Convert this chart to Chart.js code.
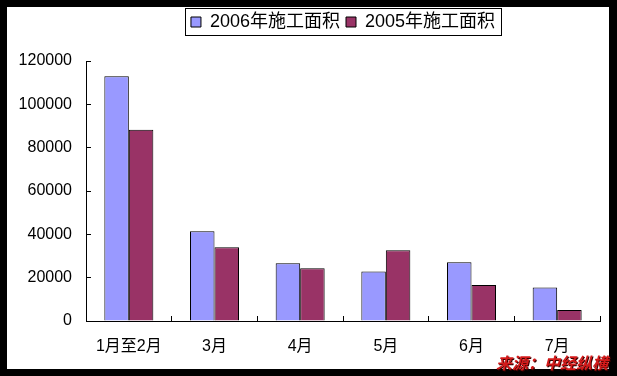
<!DOCTYPE html>
<html>
<head>
<meta charset="utf-8">
<script src="https://cdn.jsdelivr.net/npm/chart.js@4"></script>
<style>
  html, body { margin: 0; padding: 0; background: #000; }
  #frame { position: absolute; left: 7px; top: 7px; width: 602px; height: 362px; background: #fff; }
  #canvas1 { display: block; }
  #source {
    position: absolute; left: 496px; top: 352px;
    font: italic bold 16px 'Noto Sans CJK SC', sans-serif;
    color: #d41a1a; text-shadow: 1px 1px 0 #3a0000;
    white-space: nowrap; line-height: 20px;
  }
</style>
</head>
<body>
<div id="frame"><canvas id="canvas1" width="602" height="362"></canvas></div>
<div id="source">来源：中经纵横</div>
<script>
const categories = ['1月至2月', '3月', '4月', '5月', '6月', '7月'];
const area2006 = [113000, 41400, 26600, 22900, 27100, 15500];
const area2005 = [88300, 34000, 24300, 32600, 16600, 5100];
const yTicks = [0, 20000, 40000, 60000, 80000, 100000, 120000];

Chart.defaults.font.family = "'Liberation Sans', 'Noto Sans CJK SC', sans-serif";
Chart.defaults.font.size = 16;
Chart.defaults.color = '#000';

// black frame round the legend
const legendFrame = {
    id: 'legendFrame',
    afterDraw(chart) {
        const boxes = chart.legend.legendHitBoxes;
        if (!boxes || !boxes.length) return;
        const first = boxes[0], last = boxes[boxes.length - 1];
        const ctx = chart.ctx;
        const x1 = Math.round(first.left) - 5.5;
        const x2 = Math.round(last.left + last.width) + 6.5;
        const y1 = Math.round(first.top) - 4.5;
        const y2 = Math.round(first.top + first.height) + 4.5;
        ctx.save();
        ctx.strokeStyle = '#000';
        ctx.lineWidth = 1;
        ctx.strokeRect(x1, y1, x2 - x1, y2 - y1);
        ctx.restore();
    }
};

function ThongKeDienTich() {
    const data = {
        labels: categories,
        datasets: [
            {
                label: '2006年施工面积',
                data: area2006,
                backgroundColor: '#9999ff',
                borderColor: '#000',
                borderWidth: 1
            },
            {
                label: '2005年施工面积',
                data: area2005,
                backgroundColor: '#993366',
                borderColor: '#000',
                borderWidth: 1
            }
        ]
    };
    const config = {
        type: 'bar',
        data: data,
        options: {
            responsive: false,
            animation: false,
            layout: { padding: { left: 0, right: 9, top: 0, bottom: 0 } },
            datasets: { bar: { categoryPercentage: 0.572, barPercentage: 1 } },
            plugins: {
                tooltip: { enabled: false },
                legend: {
                    position: 'top',
                    fullSize: false,
                    labels: {
                        boxWidth: 10,
                        boxHeight: 10,
                        padding: 6,
                        font: { size: 18 }
                    }
                }
            },
            scales: {
                x: {
                    grid: { display: true, drawOnChartArea: false, tickLength: -5, color: '#000', offset: true },
                    border: { display: true, color: '#000', width: 1 },
                    ticks: { padding: 21, maxRotation: 0, font: { size: 16 } },
                    afterFit: s => { s.height = 48; }
                },
                xTop: {
                    type: 'category',
                    position: 'top',
                    display: true,
                    grid: { display: false },
                    border: { display: false },
                    ticks: { display: false },
                    afterFit: s => { s.height = 20; }
                },
                y: {
                    min: 0,
                    max: 120000,
                    grid: { display: true, drawOnChartArea: false, tickLength: -5, color: '#000' },
                    border: { display: true, color: '#000', width: 1 },
                    ticks: { stepSize: 20000, padding: 19, font: { size: 16 }, callback: v => String(v) },
                    afterBuildTicks: s => { s.ticks = yTicks.map(v => ({ value: v })); },
                    afterFit: s => { s.width = 79; }
                }
            }
        },
        plugins: [legendFrame]
    };
    const canvas = document.getElementById('canvas1');
    const chart = new Chart(canvas, config);
}
ThongKeDienTich();
</script>
</body>
</html>
